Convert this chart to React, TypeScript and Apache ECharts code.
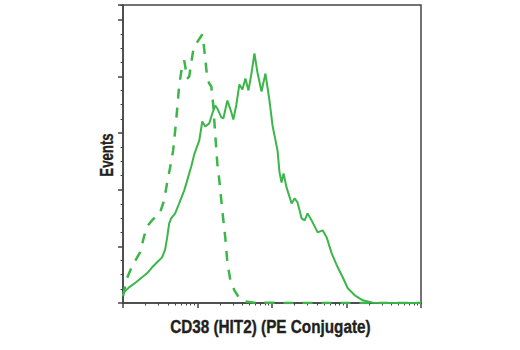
import React, { useEffect, useRef } from "react";
import * as echarts from "echarts";

// x positions are log10 of PE fluorescence (decades 0..4), y = events
const isotypeLogFL = [0, 0.054, 0.121, 0.175, 0.229, 0.283, 0.323, 0.377, 0.444, 0.498, 0.552, 0.593, 0.633, 0.673, 0.714, 0.754, 0.795, 0.822, 0.862, 0.889, 0.916, 0.943, 0.983, 1.037, 1.064, 1.077, 1.104, 1.131, 1.158, 1.185, 1.212, 1.239, 1.266, 1.293, 1.333, 1.374, 1.401, 1.441, 1.495, 1.562, 1.63, 1.764, 2.37, 3.313, 4.0];
const isotypeEvents = [5.9, 21.8, 32.4, 38.5, 44.7, 58.8, 67.6, 72.0, 76.5, 80.0, 90.6, 106.4, 119.7, 134.6, 161.1, 192.0, 209.6, 214.0, 198.1, 199.9, 212.2, 222.8, 229.0, 234.3, 236.9, 231.6, 215.8, 198.1, 193.7, 191.1, 174.3, 147.9, 123.2, 108.2, 81.7, 57.1, 35.9, 20.0, 11.2, 4.1, 1.5, 0.2, 0, 0, 0];

const cd38LogFL = [0, 0.081, 0.175, 0.256, 0.323, 0.391, 0.458, 0.525, 0.566, 0.593, 0.62, 0.646, 0.7, 0.754, 0.822, 0.862, 0.916, 0.956, 1.024, 1.064, 1.104, 1.158, 1.199, 1.239, 1.266, 1.32, 1.347, 1.401, 1.455, 1.481, 1.522, 1.562, 1.603, 1.643, 1.684, 1.724, 1.764, 1.805, 1.859, 1.912, 1.966, 2.007, 2.047, 2.074, 2.101, 2.128, 2.155, 2.195, 2.263, 2.303, 2.343, 2.397, 2.438, 2.478, 2.545, 2.613, 2.68, 2.734, 2.801, 2.882, 2.949, 3.017, 3.111, 3.219, 3.354, 4.0];
const cd38Events = [8.6, 13.8, 18.3, 22.7, 26.2, 31.5, 35.9, 40.3, 47.4, 57.9, 70.3, 74.7, 79.1, 87.9, 99.4, 108.2, 120.5, 131.1, 143.5, 160.2, 155.8, 158.5, 167.3, 174.3, 171.7, 163.8, 162.9, 178.7, 168.2, 162.0, 175.2, 192.9, 188.4, 198.1, 187.6, 202.5, 220.2, 203.4, 186.7, 202.5, 178.7, 156.7, 143.5, 134.6, 115.3, 106.4, 114.4, 102.0, 87.9, 92.3, 88.8, 74.7, 72.9, 79.1, 71.2, 62.3, 64.1, 57.9, 43.8, 31.5, 22.7, 13.0, 6.8, 2.4, 0.2, 0];

const decades = [0, 1, 2, 3, 4];
const minorMultipliers = [2, 3, 4, 5, 6, 7, 8, 9];

const xTitle = "CD38 (HIT2) (PE Conjugate)";
const yTitle = "Events";

export default function App() {
  const ref = useRef<HTMLDivElement>(null);
  useEffect(() => {
    if (!ref.current) return;
    const chart = echarts.init(ref.current, null, { renderer: "svg" });
    const green = "#3cb64a";
    const frame = "#444";
    const font = "'Liberation Sans', Arial, sans-serif";
    const minorVals: number[] = [];
    decades.slice(0, -1).forEach((d) => minorMultipliers.forEach((m) => minorVals.push(d + Math.log10(m))));
    const titleStyle = {
      fontFamily: font,
      fontWeight: "bold",
      fontSize: 18.5,
      fill: "#231f20",
      stroke: "#231f20",
      lineWidth: 0.4,
      align: "center",
      verticalAlign: "middle",
    };
    chart.setOption({
      animation: false,
      backgroundColor: "#fff",
      grid: { left: 123, right: 99, top: 5, bottom: 47, show: true, borderColor: frame, borderWidth: 1.5 },
      graphic: [
        { type: "text", x: 270.4, y: 326.6, scaleX: 0.827, style: { ...titleStyle, text: xTitle } },
        { type: "text", x: 105.6, y: 155, rotation: Math.PI / 2, scaleX: 0.715, style: { ...titleStyle, text: yTitle } },
      ],
      xAxis: [
        {
          type: "value",
          min: 0,
          max: 4,
          interval: 1,
          position: "bottom",
          axisLine: { show: true, lineStyle: { color: frame, width: 1.5 } },
          axisTick: { show: true, length: 5, lineStyle: { color: frame, width: 1.5 }, customValues: decades },
          axisLabel: { show: false },
          splitLine: { show: false },
        },
        {
          type: "value",
          min: 0,
          max: 4,
          position: "bottom",
          axisLine: { show: false },
          axisTick: { show: true, length: 2.5, lineStyle: { color: frame, width: 1 }, customValues: minorVals },
          axisLabel: { show: false },
          splitLine: { show: false },
        },
      ],
      yAxis: {
        type: "value",
        min: 0,
        max: 263,
        interval: 50,
        axisLine: { show: true, lineStyle: { color: frame, width: 1.5 } },
        axisTick: { show: true, length: 5, lineStyle: { color: frame, width: 1.5 } },
        minorTick: { show: true, splitNumber: 4, length: 2.5, lineStyle: { color: frame, width: 1 } },
        axisLabel: { show: false },
        splitLine: { show: false },
      },
      series: [
        {
          type: "line",
          xAxisIndex: 0,
          data: isotypeLogFL.map((x, i) => [x, isotypeEvents[i]]),
          showSymbol: false,
          lineStyle: { color: green, width: 2.5, type: [10, 9] },
        },
        {
          type: "line",
          xAxisIndex: 0,
          data: cd38LogFL.map((x, i) => [x, cd38Events[i]]),
          showSymbol: false,
          lineStyle: { color: green, width: 2 },
        },
      ],
    });
    return () => chart.dispose();
  }, []);
  return <div ref={ref} style={{ position: "fixed", left: 0, top: 0, width: 520, height: 350 }} />;
}
